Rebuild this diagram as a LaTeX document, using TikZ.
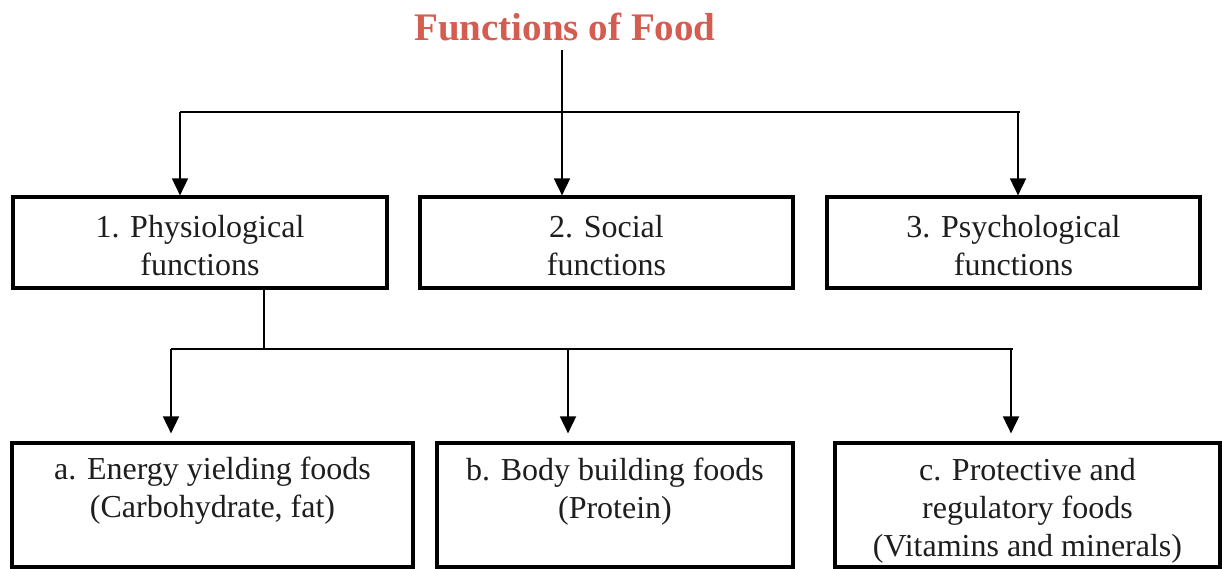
\documentclass[tikz,border=0pt]{standalone}
\usepackage{fontspec}
\setmainfont{Liberation Serif}
\usetikzlibrary{arrows.meta}
\definecolor{titlered}{RGB}{212,92,80}
\definecolor{ink}{RGB}{30,30,30}
\begin{document}
\begin{tikzpicture}[x=1pt,y=-1pt,
  box/.style={draw=black,line width=3.2pt,inner sep=0pt},
  txt/.style={inner sep=0pt,align=center,font=\fontsize{32}{38}\selectfont,text=ink},
  link/.style={draw=black,line width=1.8pt},
  arr/.style={link,-{Triangle[width=16pt,length=17pt]}}]
\useasboundingbox[fill=white] (0,0) rectangle (1222,569);
% title
\node[font=\fontsize{39}{44}\bfseries\selectfont,text=titlered,inner sep=0pt] (title) at (565,27) {Functions of Food};
% top boxes
\node[box,minimum width=374pt,minimum height=91pt] (p1) at (200,242.5) {};
\node[txt] (p1t) at (200,246) {1. Physiological\\functions};
\node[box,minimum width=373pt,minimum height=91pt] (p2) at (606.5,242.5) {};
\node[txt] (p2t) at (606.5,246) {2. Social\\functions};
\node[box,minimum width=373pt,minimum height=91pt] (p3) at (1013.5,242.5) {};
\node[txt] (p3t) at (1013.5,246) {3. Psychological\\functions};
% bottom boxes
\node[box,minimum width=401pt,minimum height=124pt] (a) at (212.5,505) {};
\node[txt] (at) at (212.5,491) {a. Energy yielding foods\\(Carbohydrate, fat)};
\node[box,minimum width=356pt,minimum height=124pt] (b) at (615,505) {};
\node[txt] (bt) at (615,492) {b. Body building foods\\(Protein)};
\node[box,minimum width=385pt,minimum height=124pt] (c) at (1027.5,505) {};
\node[txt] (ct) at (1027.5,511) {c. Protective and\\regulatory foods\\(Vitamins and minerals)};
% top connectors
\coordinate (ts) at (562,50);
\coordinate (hub) at (562,112);
\coordinate (hl) at (180,112);
\coordinate (hr) at (1020,112);
\coordinate (h3) at (1018,112);
\draw[link] (ts) -- (hub);
\draw[link] (hl) -- (hr);
\draw[arr] (hl) -- (hl |- p1.north);
\draw[arr] (hub) -- (hub |- p2.north);
\draw[arr] (h3) -- (h3 |- p3.north);
% bottom connectors
\coordinate (j) at (264,349);
\coordinate (bl) at (171,349);
\coordinate (bm) at (568,349);
\coordinate (br) at (1013,349);
\coordinate (bc) at (1011,349);
\draw[link] (p1.south -| j) -- (j);
\draw[link] (bl) -- (br);
\draw[arr,shorten >=8pt] (bl) -- (bl |- a.north);
\draw[arr,shorten >=8pt] (bm) -- (bm |- b.north);
\draw[arr,shorten >=8pt] (bc) -- (bc |- c.north);
\end{tikzpicture}
\end{document}
